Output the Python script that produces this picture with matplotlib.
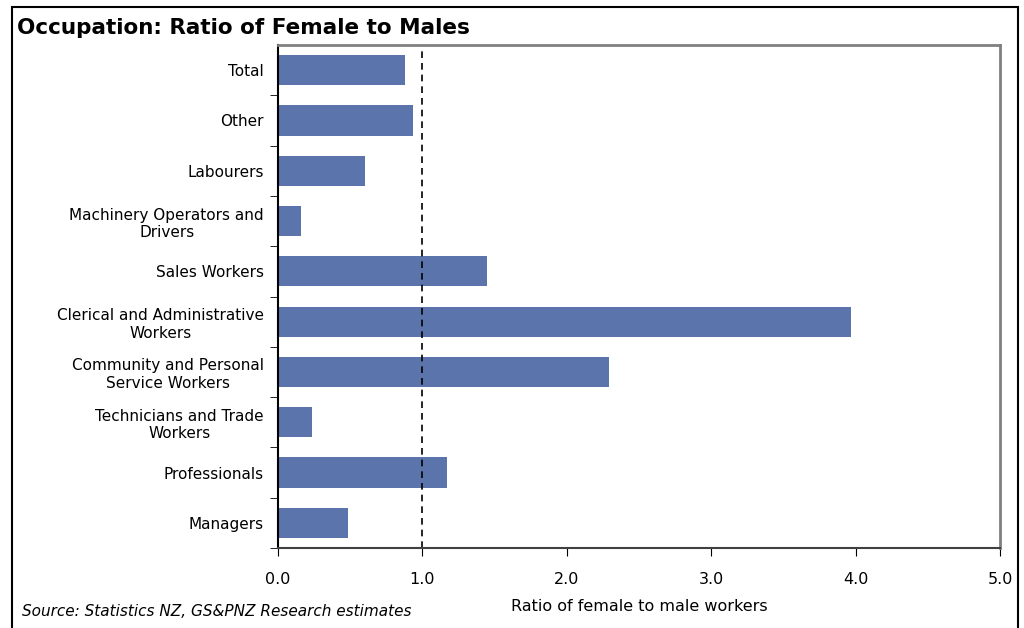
import matplotlib.pyplot as plt
import numpy as np
from matplotlib.patches import Rectangle

categories = ["Managers", "Professionals", "Technicians and Trade\nWorkers",
              "Community and Personal\nService Workers",
              "Clerical and Administrative\nWorkers", "Sales Workers",
              "Machinery Operators and\nDrivers", "Labourers", "Other", "Total"]
ratios = [0.485, 1.17, 0.235, 2.29, 3.97, 1.45, 0.16, 0.60, 0.935, 0.88]
xticks = [0, 1, 2, 3, 4, 5]

plt.rcParams['font.family'] = ['DejaVu Sans']
fig = plt.figure(figsize=(10.24, 6.28), dpi=100)

# outer frame round the whole chart
fig.patches.append(Rectangle((12/1024, -0.05), 1006/1024, 1.05 - 7/628,
                             transform=fig.transFigure, fill=False,
                             edgecolor='black', linewidth=1.5))
fig.text(17/1024, 1 - 28/628, "Occupation: Ratio of Female to Males",
         fontsize=15.5, fontweight='bold', va='center', ha='left')

ax = fig.add_axes([278/1024, 1 - 548/628, 722/1024, 503/628])
y = np.arange(len(categories))
ax.barh(y, ratios, height=0.6, color='#5b74ab')
ax.axvline(1.0, color='black', linestyle=(0, (4, 3)), linewidth=1.2)

ax.set_xlim(0, 5)
ax.set_ylim(-0.5, len(categories) - 0.5)
ax.set_xticks(xticks)
ax.set_xticklabels([f"{v:.1f}" for v in xticks], fontsize=11.5)
ax.set_yticks(y)
ax.set_yticklabels(categories, fontsize=11, multialignment='center')
ax.tick_params(axis='y', length=0, pad=10)
ax.set_yticks(np.arange(-0.5, len(categories) - 1, 1), minor=True)
ax.tick_params(axis='y', which='minor', length=6, direction='out')
ax.tick_params(axis='x', length=6, direction='out', pad=11)
ax.set_xlabel("Ratio of female to male workers", fontsize=11.5, labelpad=9)

for s in ['top', 'right']:
    ax.spines[s].set_color('#808080')
    ax.spines[s].set_linewidth(2)
ax.spines['left'].set_linewidth(1.5)
ax.spines['bottom'].set_linewidth(1.5)
ax.spines['bottom'].set_color('#404040')

fig.text(22/1024, 1 - 612/628, "Source: Statistics NZ, GS&PNZ Research estimates",
         fontsize=11, style='italic', va='center', ha='left')

fig.savefig("out.png", dpi=100)
